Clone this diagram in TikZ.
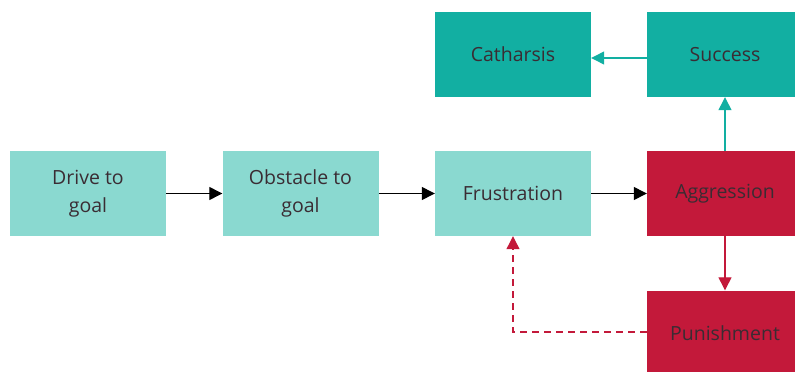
\documentclass[tikz,border=0pt]{standalone}
\usepackage{fontspec}
\setmainfont{Open Sans}
\usetikzlibrary{arrows.meta}
\definecolor{lteal}{HTML}{8AD9D0}
\definecolor{dteal}{HTML}{12AFA2}
\definecolor{crim}{HTML}{C3193A}
\definecolor{txt}{HTML}{3A2C33}
\tikzset{
  box/.style={minimum width=156pt, minimum height=85pt, inner sep=0pt, align=center, text=txt, font=\fontsize{19.5}{28}\selectfont},
  lbox/.style={box, fill=lteal},
  dbox/.style={box, fill=dteal},
  rbox/.style={box, fill=crim},
  conn/.style={line width=1.3pt, -{Triangle[length=13pt,width=13pt]}},
}
\begin{document}
\begin{tikzpicture}[x=1pt,y=-1pt]
\useasboundingbox (0,0) rectangle (795,372);
\clip (0,0) rectangle (795,372);
\node[lbox] (drive) at (88,193.5) {Drive to\\goal};
\node[lbox] (obst) at (300.5,193.5) {Obstacle to\\goal};
\node[lbox] (frus) at (513,193.5) {Frustration};
\node[rbox] (aggr) at (725,193.5) {Aggression};
\node[rbox] (pun) at (725,333) {Punishment};
\node[dbox] (cath) at (513,54.5) {Catharsis};
\node[dbox] (succ) at (725,54.5) {Success};
\draw[conn, black] (drive) -- (obst);
\draw[conn, black] (obst) -- (frus);
\draw[conn, black] (frus) -- (aggr);
\draw[conn, dteal] (aggr) -- (succ);
\draw[conn, dteal] (succ.west |- 0,58) coordinate (s1) -- (cath.east |- s1);
\draw[conn, crim] (aggr) -- (pun);
\draw[conn, crim, dashed, dash pattern=on 7pt off 5pt, line width=1.2pt] (pun.west |- 0,332) -- (frus.south |- 0,332) -- (frus.south);
\end{tikzpicture}
\end{document}
